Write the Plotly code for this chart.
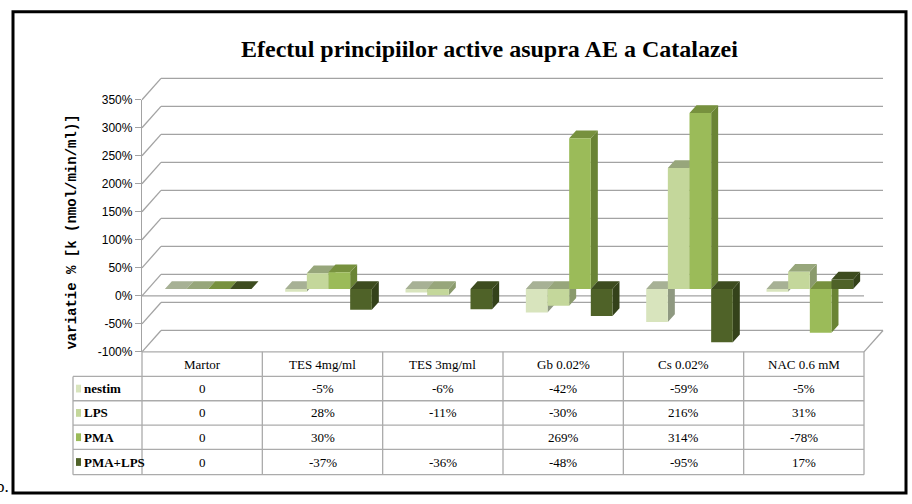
import plotly.graph_objects as go

# ---------------- data ----------------
categories = ["Martor", "TES 4mg/ml", "TES 3mg/ml", "Gb 0.02%", "Cs 0.02%", "NAC 0.6 mM"]
series_names = ["nestim", "LPS", "PMA", "PMA+LPS"]
nestim = [0, -5, -6, -42, -59, -5]
lps = [0, 28, -11, -30, 216, 31]
pma = [0, 30, None, 269, 314, -78]
pma_lps = [0, -37, -36, -48, -95, 17]
tick_vals = [-100, -50, 0, 50, 100, 150, 200, 250, 300, 350]
tick_text = [f"{v}%" for v in tick_vals]
title_text = "Efectul principiilor active asupra AE a Catalazei"
y_title = "variatie % [k (nmol/min/ml)]"

series_values = [nestim, lps, pma, pma_lps]
front_colors = ["#D8E4BD", "#C4D79B", "#9BBB59", "#4F6228"]
top_colors = ["#A7B195", "#97A67B", "#77913E", "#3D4C1F"]
side_colors = ["#8F9981", "#8A9A6C", "#6A8435", "#34421A"]

# ---------------- geometry (pixels) ----------------
W, H = 912, 504
FY_TOP, FY_BOT = 95.4, 354.7          # front plane: 350% and -100%
K = (FY_BOT - FY_TOP) / 450.0          # px per %
X_LEFT, X_FRONT_RIGHT, X_BACK_RIGHT = 142, 864, 883
COL_W = (X_FRONT_RIGHT - X_LEFT) / 6.0
BACK_DX, BACK_DY = 19, -22
BAR_DX, BAR_DY = 6, -7
DEPTH_DX, DEPTH_DY = 7, -8
GRID = "#A3A3A3"
TABLE_LINE = "#ABABAB"


def PX(px):
    return px / W


def PY(py):
    return 1 - py / H


def yf(v):
    return FY_BOT - (v + 100) * K


def px_to_x(px):
    return (px - X_LEFT - BAR_DX) / COL_W - 0.5


x_range = [px_to_x(X_LEFT), px_to_x(X_BACK_RIGHT)]
bar_shift = -BAR_DY / K
y_bar_range = [-100 - bar_shift, 350 - bar_shift]
bw = 0.72 / 4
ddx = DEPTH_DX / COL_W
ddy = -DEPTH_DY / K

fig = go.Figure()

# 3D faces (top + side) as polygons, drawn under the front faces
for j, vals in enumerate(series_values):
    sx, sy, tx, ty = [], [], [], []
    for i, v in enumerate(vals):
        if v is None:
            continue
        x0 = i + (j - 2) * bw
        x1 = x0 + bw
        top = max(v, 0)
        bot = min(v, 0)
        sx += [x1, x1, x1 + ddx, x1 + ddx, x1, None]
        sy += [bot, top, top + ddy, bot + ddy, bot, None]
        tx += [x0, x1, x1 + ddx, x0 + ddx, x0, None]
        ty += [top, top, top + ddy, top + ddy, top, None]
    fig.add_trace(go.Scatter(x=sx, y=sy, xaxis="x", yaxis="y2", mode="lines",
                             fill="toself", fillcolor=side_colors[j],
                             line=dict(width=0, color=side_colors[j]),
                             hoverinfo="skip", showlegend=False))
    fig.add_trace(go.Scatter(x=tx, y=ty, xaxis="x", yaxis="y2", mode="lines",
                             fill="toself", fillcolor=top_colors[j],
                             line=dict(width=0, color=top_colors[j]),
                             hoverinfo="skip", showlegend=False))

# front faces: real bars
for j, vals in enumerate(series_values):
    fig.add_trace(go.Bar(x=list(range(len(categories))), y=vals, name=series_names[j],
                         xaxis="x", yaxis="y3", width=bw, offset=(j - 2) * bw,
                         marker=dict(color=front_colors[j], line=dict(width=0)),
                         showlegend=False))

# invisible trace so the front axis subplot exists
fig.add_trace(go.Scatter(x=[0], y=[0], xaxis="x", yaxis="y", mode="markers",
                         marker=dict(opacity=0), hoverinfo="skip", showlegend=False))

shapes = []


def line(x0, y0, x1, y1, color=GRID, width=1.3, layer="below"):
    shapes.append(dict(type="line", xref="paper", yref="paper",
                       x0=PX(x0), y0=PY(y0), x1=PX(x1), y1=PY(y1),
                       line=dict(color=color, width=width), layer=layer))


# back wall gridlines and side wall diagonals
for v in tick_vals:
    yb = yf(v) + BACK_DY
    line(X_LEFT + BACK_DX, yb, X_BACK_RIGHT, yb)
    line(X_LEFT, yf(v), X_LEFT + BACK_DX, yb)
# front zero line
line(X_LEFT, yf(0), X_FRONT_RIGHT, yf(0))
# floor right edge
line(X_FRONT_RIGHT, yf(-100), X_BACK_RIGHT, yf(-100) + BACK_DY)

# table
row_edges = [yf(-100), 380, 405, 430, 455, 481]
col_edges = [X_LEFT + COL_W * k for k in range(7)]
TABLE_LEFT = 73
line(X_LEFT, row_edges[0], X_FRONT_RIGHT, row_edges[0], TABLE_LINE, 1.3)
for r in row_edges[1:]:
    line(TABLE_LEFT, r, X_FRONT_RIGHT, r, TABLE_LINE, 1.3)
line(TABLE_LEFT, row_edges[1], TABLE_LEFT, row_edges[-1], TABLE_LINE, 1.3)
for c in col_edges:
    line(c, row_edges[0], c, row_edges[-1], TABLE_LINE, 1.3)

# outer frame
shapes.append(dict(type="rect", xref="paper", yref="paper",
                   x0=PX(13), y0=PY(500), x1=PX(906), y1=PY(5),
                   line=dict(color="black", width=3), layer="above"))

annotations = []
TFONT = "Liberation Serif"
for k, cat in enumerate(categories):
    cx = (col_edges[k] + col_edges[k + 1]) / 2
    annotations.append(dict(x=PX(cx), y=PY((row_edges[0] + row_edges[1]) / 2),
                            xref="paper", yref="paper", text=cat, showarrow=False,
                            font=dict(family=TFONT, size=13, color="black"),
                            xanchor="center", yanchor="middle"))
for j, vals in enumerate(series_values):
    ry = (row_edges[j + 1] + row_edges[j + 2]) / 2
    shapes.append(dict(type="rect", xref="paper", yref="paper",
                       x0=PX(76), x1=PX(81), y0=PY(ry + 4), y1=PY(ry - 4),
                       fillcolor=front_colors[j], line=dict(width=0)))
    annotations.append(dict(x=PX(82), y=PY(ry), xref="paper", yref="paper",
                            text=f"<b>{series_names[j]}</b>", showarrow=False,
                            font=dict(family=TFONT, size=13, color="black"),
                            xanchor="left", yanchor="middle"))
    for k, v in enumerate(vals):
        if v is None:
            continue
        txt = "0" if v == 0 else f"{v}%"
        cx = (col_edges[k] + col_edges[k + 1]) / 2
        annotations.append(dict(x=PX(cx), y=PY(ry), xref="paper", yref="paper",
                                text=txt, showarrow=False,
                                font=dict(family=TFONT, size=13, color="black"),
                                xanchor="center", yanchor="middle"))

# title
annotations.append(dict(x=PX(490), y=PY(43), xref="paper", yref="paper",
                        text=f"<b>{title_text}</b>", showarrow=False,
                        font=dict(family="Liberation Serif", size=24, color="black"),
                        xanchor="center", yanchor="middle"))
# y title
annotations.append(dict(x=PX(72), y=PY(232), xref="paper", yref="paper",
                        text=f"<b>{y_title}</b>", showarrow=False, textangle=-90,
                        font=dict(family="Liberation Mono", size=14, color="black"),
                        xanchor="center", yanchor="middle"))
# partial label at bottom-left
annotations.append(dict(x=PX(11), y=PY(493), xref="paper", yref="paper",
                        text="b.", showarrow=False,
                        font=dict(family="Liberation Serif", size=17, color="black"),
                        xanchor="right", yanchor="middle"))

fig.update_layout(
    width=W, height=H,
    margin=dict(l=0, r=0, t=0, b=0),
    paper_bgcolor="white", plot_bgcolor="rgba(0,0,0,0)",
    barmode="overlay",
    showlegend=False,
    xaxis=dict(domain=[PX(X_LEFT), PX(X_BACK_RIGHT)], range=x_range,
               visible=False, fixedrange=True),
    yaxis=dict(domain=[PY(FY_BOT), PY(FY_TOP)], range=[-100, 350],
               tickvals=tick_vals, ticktext=tick_text,
               showgrid=False, zeroline=False, showline=True,
               linecolor=GRID, linewidth=1.3,
               ticks="outside", ticklen=6, tickcolor=GRID, tickwidth=1.3,
               tickfont=dict(family="Liberation Sans", size=12, color="black"),
               fixedrange=True),
    yaxis2=dict(overlaying="y", range=y_bar_range, visible=False, fixedrange=True),
    yaxis3=dict(overlaying="y", range=y_bar_range, visible=False, fixedrange=True),
    shapes=shapes,
    annotations=annotations,
)

fig.write_html("out.html", config={"displayModeBar": False},
               post_script="document.body.style.margin='0';document.body.style.overflow='hidden';")
